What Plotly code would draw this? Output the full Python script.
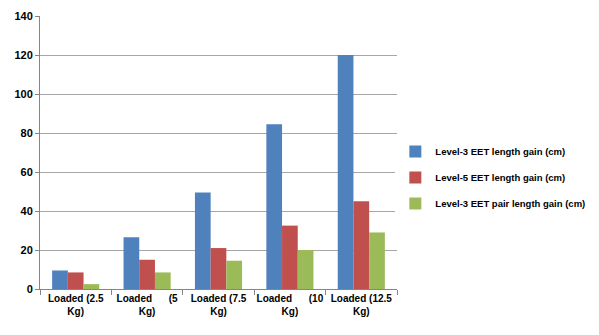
import plotly.graph_objects as go

categories = ["Loaded (2.5<br>Kg)", "Loaded      (5<br>Kg)", "Loaded (7.5<br>Kg)", "Loaded      (10<br>Kg)", "Loaded (12.5<br>Kg)"]
level3 = [9.5, 26.5, 49.5, 84.5, 120]
level5 = [8.5, 15, 21, 32.5, 45]
level3_pair = [2.5, 8.5, 14.5, 20, 29]
names = ["Level-3 EET length gain (cm)", "Level-5 EET length gain (cm)", "Level-3 EET pair length gain (cm)"]
colors = ["#4F81BD", "#C0504D", "#9BBB59"]

fam = "Liberation Sans, Arial, sans-serif"

fig = go.Figure()
for i, (vals, name, c) in enumerate(zip([level3, level5, level3_pair], names, colors)):
    fig.add_trace(go.Bar(x=categories, y=vals, name=name, legendgroup=f"g{i}",
                         marker=dict(color=c, line=dict(width=0))))

fig.update_layout(
    width=599, height=335,
    margin=dict(l=40, r=202, t=16, b=46, autoexpand=False),
    plot_bgcolor="white", paper_bgcolor="white",
    barmode="group", bargap=0.34, bargroupgap=0,
    font=dict(family=fam, size=11, color="#000", weight="bold"),
    legend=dict(xref="container", yref="container", x=0.66, y=0.47, xanchor="left", yanchor="middle",
                font=dict(family=fam, size=9.5, color="#000", weight="bold"),
                traceorder="grouped", tracegroupgap=7, itemwidth=30),
    showlegend=True,
)
fig.update_xaxes(showline=True, linecolor="#868686", linewidth=1, ticks="outside", tickson="boundaries",
                 ticklen=5, tickcolor="#868686", tickangle=0,
                 tickfont=dict(family=fam, size=10, color="#000", weight="bold"))
fig.update_yaxes(range=[0, 140], dtick=20, showgrid=True, gridcolor="#A6A6A6", gridwidth=1,
                 showline=True, linecolor="#868686", ticks="outside", ticklen=4, tickcolor="#868686",
                 zeroline=False, tickfont=dict(family=fam, size=11, color="#000", weight="bold"))

fig.write_html("out.html")
